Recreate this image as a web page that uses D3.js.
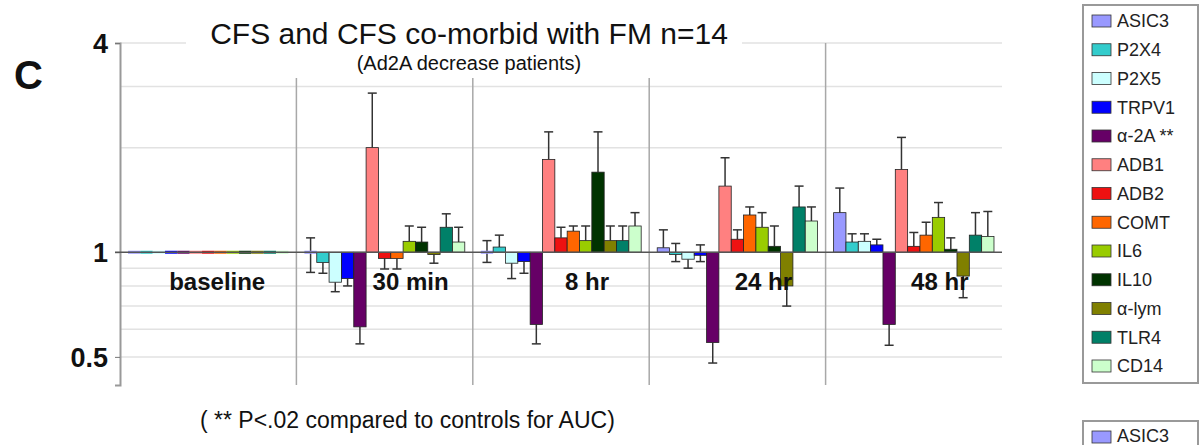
<!DOCTYPE html>
<html>
<head>
<meta charset="utf-8">
<script src="https://cdn.jsdelivr.net/npm/d3@7"></script>
<style>
  body { margin: 0; background: #fff; }
  svg { font-family: "Liberation Sans", Arial, sans-serif; }
</style>
</head>
<body>
<svg id="chart" width="1200" height="445"></svg>
<script>
// series (genes) and their colours, in legend order
const series = ['ASIC3', 'P2X4', 'P2X5', 'TRPV1', 'α-2A **', 'ADB1', 'ADB2', 'COMT', 'IL6', 'IL10', 'α-lym', 'TLR4', 'CD14'];
const colors = ['#9999ff', '#33cccc', '#ccffff', '#0000ff', '#660066', '#ff8080', '#ee1111', '#ff6600', '#99cc00', '#003300', '#808000', '#008068', '#ccffcc'];
const groups = ['baseline', '30 min', '8 hr', '24 hr', '48 hr'];

// fold change vs baseline, one array per time point (series order)
const meanBaseline = [1, 1, 1, 1, 1, 1, 1, 1, 1, 1, 1, 1, 1];
const mean30min = [1.0, 0.935, 0.82, 0.84, 0.61, 2.0, 0.96, 0.96, 1.075, 1.07, 0.985, 1.18, 1.07];
const mean8hr = [1.0, 1.035, 0.93, 0.94, 0.62, 1.85, 1.10, 1.15, 1.08, 1.70, 1.08, 1.08, 1.19];
const mean24hr = [1.03, 0.985, 0.955, 0.98, 0.55, 1.55, 1.09, 1.28, 1.18, 1.04, 0.80, 1.35, 1.23];
const mean48hr = [1.30, 1.07, 1.075, 1.05, 0.62, 1.73, 1.04, 1.12, 1.26, 1.02, 0.854, 1.12, 1.11];

// error bar tips (upper / lower), null = not drawn
const hi30min = [1.10, null, null, null, null, 2.87, null, null, 1.19, 1.18, null, 1.29, 1.18];
const lo30min = [0.875, 0.87, 0.77, 0.80, 0.545, null, 0.895, 0.895, null, null, 0.93, null, null];
const hi8hr = [1.08, 1.12, null, null, null, 2.22, 1.18, 1.19, 1.19, 2.22, 1.19, 1.19, 1.30];
const lo8hr = [0.935, null, 0.84, 0.87, 0.545, null, null, null, null, null, null, null, null];
const hi24hr = [1.16, 1.06, null, 1.05, null, 1.87, 1.16, 1.35, 1.30, 1.19, null, 1.55, 1.35];
const lo24hr = [null, 0.94, 0.90, 0.94, 0.48, null, null, null, null, null, 0.70, null, null];
const hi48hr = [1.53, 1.13, 1.13, 1.09, null, 2.14, 1.14, 1.22, 1.39, 1.10, null, 1.30, 1.31];
const lo48hr = [null, null, null, null, 0.54, null, null, null, null, null, 0.74, null, null];

const yTicks = [0.5, 1, 4];
const yGrid = [0.5, 0.6, 0.7, 0.8, 0.9, 2, 3, 4];

const means = [meanBaseline, mean30min, mean8hr, mean24hr, mean48hr];
const his = [null, hi30min, hi8hr, hi24hr, hi48hr];
const los = [null, lo30min, lo8hr, lo24hr, lo48hr];

const data = [];
groups.forEach((g, gi) => {
  series.forEach((s, si) => {
    data.push({
      group: g, series: s, color: colors[si],
      value: means[gi][si],
      hi: his[gi] ? his[gi][si] : null,
      lo: los[gi] ? los[gi][si] : null
    });
  });
});

const svg = d3.select('#chart');
const plot = { left: 120, right: 1002, top: 43, bottom: 385 };

const x = d3.scaleBand()
    .domain(groups)
    .range([plot.left, plot.right]);

const xs = d3.scaleBand()
    .domain(series)
    .range([0, x.bandwidth()])
    .paddingOuter(0.65);

const y = d3.scaleLog()
    .domain([0.415, 4])
    .range([plot.bottom, plot.top]);

// gridlines
svg.append('g')
  .selectAll('line')
  .data(yGrid)
  .enter().append('line')
    .attr('x1', plot.left).attr('x2', plot.right)
    .attr('y1', d => y(d)).attr('y2', d => y(d))
    .attr('stroke', '#e2e2e2')
    .attr('stroke-width', 1.5);

// category separators
svg.append('g')
  .selectAll('line')
  .data(groups.slice(1))
  .enter().append('line')
    .attr('x1', d => x(d)).attr('x2', d => x(d))
    .attr('y1', plot.top).attr('y2', plot.bottom)
    .attr('stroke', '#a8a8a8')
    .attr('stroke-width', 1.5);

// y axis
const yAxis = d3.axisLeft(y)
    .tickValues(yTicks)
    .tickSize(5)
    .tickFormat(d3.format(''));

const gy = svg.append('g')
    .attr('transform', `translate(${plot.left},0)`)
    .call(yAxis);
gy.select('.domain').attr('stroke', '#999').attr('stroke-width', 2);
gy.selectAll('.tick line').attr('stroke', '#777');
gy.selectAll('.tick text')
    .attr('x', -12)
    .attr('dy', '0.35em')
    .style('font-size', '27px')
    .style('font-weight', 'bold')
    .style('font-family', '"Liberation Sans", Arial, sans-serif')
    .attr('fill', '#111');

// error bars (under the bars)
const cap = 4.5;
const eb = svg.append('g').attr('stroke', '#333').attr('stroke-width', 1.5);
data.forEach(d => {
  const cx = x(d.group) + xs(d.series) + xs.bandwidth() / 2;
  [d.hi, d.lo].forEach(t => {
    if (t == null) return;
    eb.append('line').attr('x1', cx).attr('x2', cx).attr('y1', y(d.value)).attr('y2', y(t));
    eb.append('line').attr('x1', cx - cap).attr('x2', cx + cap).attr('y1', y(t)).attr('y2', y(t));
  });
});

// bars, from the 1 line up or down
const y1 = y(1);
svg.append('g')
  .selectAll('rect')
  .data(data)
  .enter().append('rect')
    .attr('x', d => x(d.group) + xs(d.series))
    .attr('width', xs.bandwidth())
    .attr('y', d => d.value === 1 ? y1 - 1.5 : Math.min(y(d.value), y1))
    .attr('height', d => d.value === 1 ? 3 : Math.abs(y(d.value) - y1))
    .attr('fill', d => d.color)
    .attr('stroke', d => d.value === 1 ? 'none' : '#222')
    .attr('stroke-width', 0.8);

// the 1 line (category axis)
svg.append('line')
    .attr('x1', plot.left - 5).attr('x2', plot.right)
    .attr('y1', y1).attr('y2', y1)
    .attr('stroke', '#555')
    .attr('stroke-width', 1.5);

// category labels under the 1 line
svg.append('g')
  .selectAll('text')
  .data(groups)
  .enter().append('text')
    .attr('x', (d, i) => x(d) + x.bandwidth() / 2 + (i === 0 ? 9 : 26))
    .attr('y', y1 + 38)
    .attr('text-anchor', 'middle')
    .style('font-size', '24px')
    .style('font-weight', 'bold')
    .attr('fill', '#111')
    .text(d => d);

// title box covering the top gridlines
svg.append('rect')
    .attr('x', 186).attr('y', 12)
    .attr('width', 556).attr('height', 66)
    .attr('fill', '#fff');

svg.append('text')
    .attr('x', 469).attr('y', 44)
    .attr('text-anchor', 'middle')
    .style('font-size', '30px')
    .attr('fill', '#111')
    .text('CFS and CFS co-morbid with FM n=14');

svg.append('text')
    .attr('x', 469).attr('y', 70)
    .attr('text-anchor', 'middle')
    .style('font-size', '20px')
    .attr('fill', '#111')
    .text('(Ad2A decrease patients)');

// panel letter
svg.append('text')
    .attr('x', 14).attr('y', 89)
    .style('font-size', '40px')
    .style('font-weight', 'bold')
    .attr('fill', '#111')
    .text('C');

// footnote
svg.append('text')
    .attr('x', 200).attr('y', 428)
    .style('font-size', '23px')
    .attr('fill', '#111')
    .text('( ** P<.02 compared to controls for AUC)');

// legend
const legend = svg.append('g');
legend.append('rect')
    .attr('x', 1083).attr('y', 5)
    .attr('width', 115).attr('height', 378)
    .attr('fill', '#fff')
    .attr('stroke', '#999')
    .attr('stroke-width', 2);

const ly = d3.scalePoint().domain(series).range([21, 366]);
const items = legend.selectAll('.item')
  .data(series)
  .enter().append('g')
    .attr('class', 'item')
    .attr('transform', d => `translate(1092,${ly(d)})`);
items.append('rect')
    .attr('x', 0).attr('y', -6)
    .attr('width', 19).attr('height', 12)
    .attr('fill', (d, i) => colors[i])
    .attr('stroke', '#333')
    .attr('stroke-width', 0.8);
items.append('text')
    .attr('x', 25).attr('dy', '0.35em')
    .style('font-size', '18px')
    .attr('fill', '#222')
    .text(d => d);

// top of the next panel's legend
legend.append('rect')
    .attr('x', 1083).attr('y', 421)
    .attr('width', 115).attr('height', 40)
    .attr('fill', '#fff')
    .attr('stroke', '#999')
    .attr('stroke-width', 2);
legend.append('rect')
    .attr('x', 1092).attr('y', 431)
    .attr('width', 19).attr('height', 12)
    .attr('fill', colors[0])
    .attr('stroke', '#333')
    .attr('stroke-width', 0.8);
legend.append('text')
    .attr('x', 1117).attr('y', 436).attr('dy', '0.35em')
    .style('font-size', '18px')
    .attr('fill', '#222')
    .text(series[0]);
</script>
</body>
</html>
